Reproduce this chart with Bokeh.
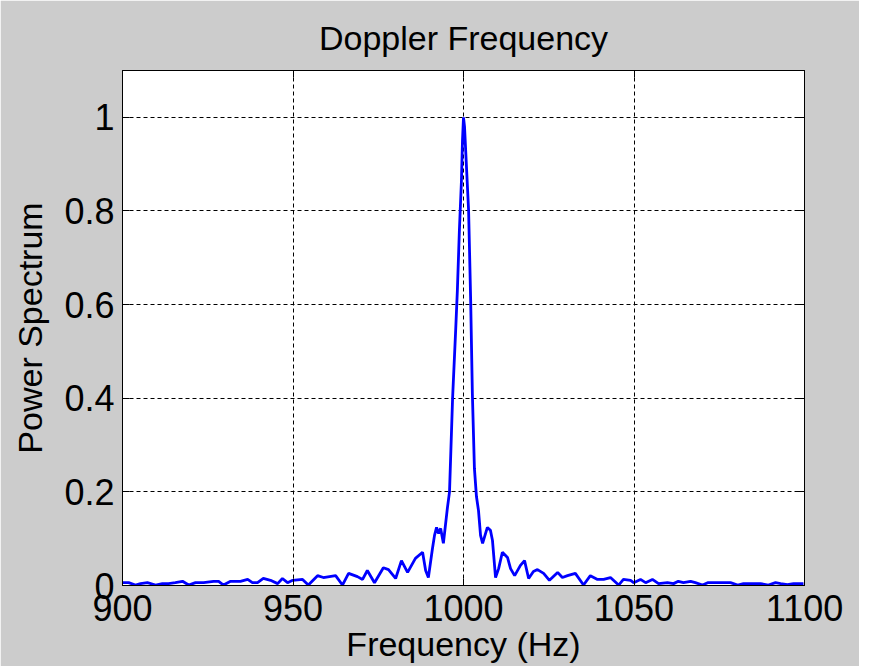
from bokeh.plotting import figure
from bokeh.models import LinearAxis, FixedTicker, Range1d
from bokeh.embed import file_html
from bokeh.resources import INLINE

# Doppler spectrum (frequency in Hz, normalised power)
freq_hz = [
    900.0, 901.8, 903.8, 905.3, 907.3, 909.7, 911.7, 913.5, 915.5, 917.6,
    919.4, 921.4, 923.8, 926.7, 928.2, 929.6, 931.7, 934.6, 936.7, 938.1,
    939.6, 941.3, 943.4, 945.5, 946.9, 948.4, 949.9, 952.8, 954.5, 957.2,
    958.9, 962.5, 964.5, 966.3, 968.9, 970.4, 971.8, 973.9, 976.5, 978.0,
    980.1, 981.8, 983.6, 985.9, 988.0, 988.9, 989.7, 990.9, 991.5, 992.1,
    992.7, 993.3, 994.1, 995.3, 995.9, 996.8, 997.7, 998.2, 998.8, 999.4,
    999.7, 1000.0, 1000.3, 1000.9, 1001.5, 1002.1, 1002.6, 1003.2, 1003.8, 1004.4,
    1005.0, 1005.6, 1007.0, 1007.9, 1008.5, 1009.4, 1010.3, 1011.4, 1012.9, 1013.8,
    1015.0, 1016.7, 1017.9, 1019.1, 1020.5, 1021.7, 1023.5, 1025.2, 1027.6, 1029.0,
    1030.5, 1032.8, 1035.2, 1037.2, 1039.3, 1041.1, 1043.1, 1045.5, 1046.9, 1049.0,
    1049.9, 1051.9, 1053.4, 1055.4, 1057.2, 1059.8, 1061.6, 1063.0, 1064.5, 1066.6,
    1068.0, 1070.1, 1071.6, 1078.3, 1080.4, 1082.1, 1087.1, 1089.4, 1091.5, 1093.0,
    1095.0, 1096.8, 1099.7,
]
power = [
    0.006, 0.006, 0.001, 0.004, 0.006, 0.001, 0.004, 0.004, 0.006, 0.009,
    0.001, 0.006, 0.006, 0.009, 0.009, 0.001, 0.009, 0.009, 0.013, 0.006,
    0.006, 0.015, 0.011, 0.004, 0.015, 0.006, 0.011, 0.013, 0.001, 0.021,
    0.017, 0.021, 0.001, 0.026, 0.019, 0.013, 0.032, 0.006, 0.038, 0.034,
    0.015, 0.053, 0.028, 0.058, 0.071, 0.032, 0.017, 0.079, 0.107, 0.124,
    0.111, 0.122, 0.090, 0.167, 0.200, 0.400, 0.545, 0.630, 0.760, 0.865,
    0.950, 1.000, 0.980, 0.890, 0.800, 0.610, 0.410, 0.250, 0.190, 0.160,
    0.107, 0.090, 0.124, 0.118, 0.096, 0.017, 0.036, 0.071, 0.060, 0.036,
    0.021, 0.043, 0.053, 0.015, 0.030, 0.034, 0.026, 0.011, 0.028, 0.017,
    0.021, 0.026, 0.001, 0.021, 0.013, 0.013, 0.017, 0.001, 0.013, 0.011,
    0.006, 0.013, 0.006, 0.013, 0.004, 0.006, 0.004, 0.009, 0.006, 0.009,
    0.006, 0.001, 0.006, 0.006, 0.001, 0.004, 0.004, 0.001, 0.006, 0.004,
    0.002, 0.004, 0.004,
]

x_ticks = [900, 950, 1000, 1050, 1100]
y_ticks = [0, 0.2, 0.4, 0.6, 0.8, 1]
y_tick_labels = {0: "0", 0.2: "0.2", 0.4: "0.4", 0.6: "0.6", 0.8: "0.8", 1: "1"}

FONT = "Liberation Sans"
BG = "#cccccc"

p = figure(
    width=859, height=666,
    x_range=Range1d(900, 1100), y_range=Range1d(0, 1.1),
    output_backend="svg", toolbar_location=None,
    title="Doppler Frequency",
    x_axis_label="Frequency (Hz)", y_axis_label="Power Spectrum",
    background_fill_color="white", border_fill_color=BG,
    outline_line_color="black", outline_line_width=1,
    min_border_left=122, min_border_right=55, min_border_top=70, min_border_bottom=81,
)

p.title.align = "center"
p.title.text_font = FONT
p.title.text_font_size = "34px"
p.title.text_font_style = "normal"
p.title.text_color = "black"
p.title.standoff = 27

p.line(freq_hz, power, line_color="#0000ff", line_width=2.8)

bottom_axis = p.below[0]
left_axis = p.left[0]
bottom_axis.ticker = FixedTicker(ticks=x_ticks)
left_axis.ticker = FixedTicker(ticks=y_ticks)
left_axis.major_label_overrides = y_tick_labels

top_axis = LinearAxis(ticker=FixedTicker(ticks=x_ticks),
                      major_label_overrides={t: "" for t in x_ticks})
right_axis = LinearAxis(ticker=FixedTicker(ticks=y_ticks),
                        major_label_overrides={t: "" for t in y_ticks})
p.add_layout(top_axis, "above")
p.add_layout(right_axis, "right")

for ax in [bottom_axis, left_axis, top_axis, right_axis]:
    ax.major_tick_in = 7
    ax.major_tick_out = 0
    ax.minor_tick_line_color = None
    ax.axis_line_color = "black"
    ax.major_tick_line_color = "black"
    ax.major_label_text_font = FONT
    ax.major_label_text_font_size = "36px"
    ax.major_label_text_color = "black"
    ax.axis_label_text_font = FONT
    ax.axis_label_text_font_size = "34px"
    ax.axis_label_text_font_style = "normal"
    ax.axis_label_text_color = "black"

bottom_axis.major_label_standoff = 9
bottom_axis.axis_label_standoff = 1
left_axis.major_label_standoff = 8
left_axis.axis_label_standoff = 12
top_axis.major_label_standoff = 0
right_axis.major_label_standoff = 0

p.xgrid.ticker = FixedTicker(ticks=x_ticks)
p.ygrid.ticker = FixedTicker(ticks=y_ticks)
for g in [p.xgrid[0], p.ygrid[0]]:
    g.grid_line_color = "black"
    g.grid_line_dash = "4 3"
    g.grid_line_width = 1

open("out.html", "w").write(file_html(p, INLINE))
